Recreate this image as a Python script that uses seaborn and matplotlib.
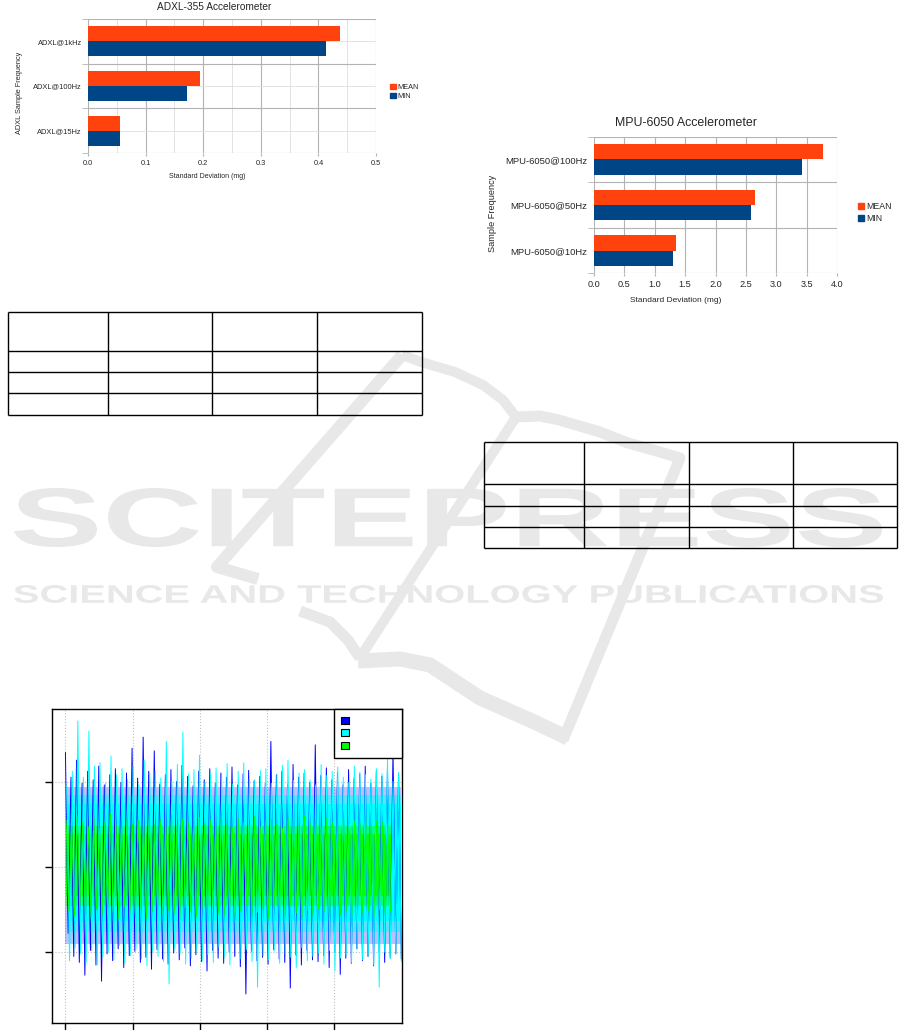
import numpy as np
import pandas as pd
import matplotlib
matplotlib.use("Agg")
import matplotlib.pyplot as plt
import seaborn as sns
from matplotlib.textpath import TextPath
from matplotlib.font_manager import FontProperties, findfont
from matplotlib.patches import PathPatch, Patch
from matplotlib.transforms import Affine2D
from matplotlib.ticker import MultipleLocator, FormatStrFormatter

sns.set_style("white")
plt.rcParams["font.family"] = ["Liberation Sans", "DejaVu Sans"]

# ---------------- data ----------------
STATS = ["MEAN", "MIN"]
STAT_COLORS = {"MEAN": "#ff420e", "MIN": "#004586"}

ADXL_FREQ = ["ADXL@1kHz", "ADXL@100Hz", "ADXL@15Hz"]
ADXL_MEAN = [0.438, 0.194, 0.055]
ADXL_MIN = [0.413, 0.172, 0.055]

MPU_FREQ = ["MPU-6050@100Hz", "MPU-6050@50Hz", "MPU-6050@10Hz"]
MPU_MEAN = [3.76, 2.65, 1.35]
MPU_MIN = [3.42, 2.58, 1.31]

# noise traces: local peak / trough of each short stretch
BLUE_UP = [1.34, 1.05, 1.25, 0.98, 1.12, 1.02, 1.18, 0.96, 1.08, 1.15,
           0.99, 1.10, 1.39, 1.04, 1.52, 1.12, 1.36, 0.97, 1.08, 1.14,
           1.00, 1.19, 1.06, 0.95, 1.12, 1.02, 1.15, 0.98, 1.10, 1.05,
           1.17, 0.96, 1.09, 1.13, 1.01, 1.06, 0.98, 1.47, 1.08, 1.12,
           0.97, 1.20, 1.05, 1.10, 0.99, 1.43, 1.07, 1.16, 1.02, 1.11,
           0.96, 1.14, 1.04, 1.09, 1.18, 0.98, 1.12, 1.06, 1.15, 1.36,
           1.10]
BLUE_DN = [-0.78, -1.05, -1.12, -1.27, -0.98, -1.15, -1.34, -1.02, -1.10, -0.96,
           -1.18, -1.04, -0.99, -1.12, -1.06, -1.20, -0.97, -1.08, -1.14, -1.01,
           -1.09, -0.95, -1.16, -1.03, -1.11, -1.22, -0.98, -1.07, -1.13, -1.00,
           -1.05, -1.17, -1.49, -0.99, -1.10, -1.06, -1.14, -0.97, -1.08, -1.12,
           -1.42, -1.03, -1.15, -0.98, -1.09, -1.11, -1.04, -1.18, -1.00, -1.26,
           -1.07, -1.13, -0.96, -1.10, -1.05, -1.16, -0.99, -1.12, -1.06, -1.02,
           -1.08]
CYAN_UP = [0.95, 1.12, 1.71, 1.05, 1.59, 1.18, 1.22, 0.98, 1.30, 1.08,
           1.15, 1.02, 1.18, 0.96, 1.25, 1.10, 1.12, 1.04, 1.47, 1.00,
           1.20, 1.58, 1.09, 1.14, 1.31, 0.99, 1.10, 1.16, 1.05, 1.21,
           0.97, 1.12, 1.22, 1.03, 1.02, 1.13, 1.15, 0.98, 1.08, 1.19,
           1.25, 1.01, 1.10, 1.14, 1.02, 0.96, 1.20, 1.07, 1.12, 1.17,
           1.05, 0.99, 1.18, 1.11, 1.08, 1.03, 1.15, 1.09, 1.27, 1.00,
           1.10]
CYAN_DN = [-1.10, -0.95, -1.02, -1.12, -0.98, -1.15, -1.06, -1.00, -1.09, -0.92,
           -1.13, -1.04, -0.97, -1.08, -1.16, -0.99, -1.05, -1.11, -1.37, -0.96,
           -1.02, -1.14, -1.07, -0.98, -1.10, -1.03, -1.12, -0.94, -1.06, -1.15,
           -1.00, -1.08, -0.97, -1.11, -1.41, -1.04, -1.09, -0.99, -1.13, -1.02,
           -1.06, -1.18, -0.95, -1.10, -1.05, -1.01, -1.14, -0.98, -1.22, -1.07,
           -1.03, -1.12, -0.96, -1.09, -1.04, -1.15, -1.41, -1.00, -1.08, -1.02,
           -1.11]
GREEN_UP = [0.55, 0.48, 0.60, 0.52, 0.47, 0.58, 0.45, 0.53, 0.62, 0.50,
            0.46, 0.57, 0.51, 0.55, 0.48, 0.59, 0.50, 0.54, 0.47, 0.60,
            0.49, 0.56, 0.53, 0.45, 0.58, 0.51, 0.55, 0.48, 0.61, 0.50,
            0.46, 0.57, 0.52, 0.49, 0.59, 0.47, 0.54, 0.56, 0.50, 0.45,
            0.58, 0.53, 0.48, 0.60, 0.51, 0.55, 0.47, 0.57, 0.52, 0.49,
            0.58, 0.46, 0.54, 0.50, 0.59, 0.48, 0.55, 0.52, 0.50]
GREEN_DN = [-0.52, -0.58, -0.45, -0.55, -0.60, -0.50, -0.56, -0.48, -0.53, -0.61,
            -0.47, -0.54, -0.58, -0.49, -0.60, -0.52, -0.46, -0.57, -0.51, -0.55,
            -0.62, -0.48, -0.53, -0.59, -0.50, -0.56, -0.47, -0.54, -0.58, -0.49,
            -0.61, -0.52, -0.45, -0.57, -0.53, -0.50, -0.60, -0.48, -0.55, -0.58,
            -0.46, -0.54, -0.62, -0.51, -0.57, -0.49, -0.53, -0.59, -0.47, -0.56,
            -0.52, -0.60, -0.48, -0.55, -0.51, -0.58, -0.50, -0.54, -0.53]
BLUE_BAND = [-0.90, 0.94]
CYAN_BAND = [-0.76, 0.84]
CYAN_CORE = [-0.64, 0.74]
GREEN_BAND = [-0.46, 0.48]
GREEN_CORE = [-0.34, 0.39]
TRACE_SPAN = {"blue": (0.0, 5.0), "cyan": (0.02, 5.0), "green": (0.01, 4.84)}
NOISE_XTICKS = [0, 1, 2, 3, 4]
NOISE_YTICKS = [-1, 0, 1]

W, H = 901, 1030
WM = "#e8e8e8"
GRID = "#b3b3b3"

fig = plt.figure(figsize=(W / 100, H / 100), dpi=100)


def px_axes(l, t, r, b):
    return fig.add_axes([l / W, 1 - b / H, (r - l) / W, (b - t) / H])


# ---------------- page background: watermark + empty tables ----------------
bg = fig.add_axes([0, 0, 1, 1])
bg.set_xlim(0, W)
bg.set_ylim(H, 0)
bg.axis("off")

WM_FONT = FontProperties(fname=findfont(FontProperties(family="Liberation Sans",
                                                       weight="bold")))


def stamp(text, x0, x1, y0, y1):
    tp = TextPath((0, 0), text, size=100, prop=WM_FONT)
    bb = tp.get_extents()
    tr = (Affine2D().translate(-bb.x0, -bb.y0)
          .scale((x1 - x0) / bb.width, -(y1 - y0) / bb.height)
          .translate(x0, y1))
    bg.add_patch(PathPatch(tr.transform_path(tp), fc=WM, ec="none", zorder=1))


stamp("SCITEPRESS", 14, 882, 488, 547)
stamp("SCIENCE AND TECHNOLOGY PUBLICATIONS", 14, 883, 585, 603)

logo = [
    ([402, 217, 258], [355, 567, 579], 12),
    ([402, 421, 455, 483, 503, 516], [355, 362, 372, 385, 400, 417], 10),
    ([516, 540, 559, 600, 628, 660, 680, 563], [417, 416, 420, 432, 443, 452, 458, 740], 11),
    ([516, 363], [417, 653], 10),
    ([300, 330, 348, 360], [611, 622, 640, 658], 11),
    ([358, 400, 430, 480, 530, 568], [661, 659, 665, 698, 720, 738], 15),
]
for xs, ys, w in logo:
    bg.plot(xs, ys, color=WM, lw=w * 0.72, solid_capstyle="butt",
            solid_joinstyle="round", zorder=0.5)

tables = [
    ([8.3, 108.3, 212.3, 317.3, 421.7], [312.3, 350.7, 371.7, 393.3, 415.0]),
    ([484.3, 584.3, 688.7, 793.3, 897.3], [441.7, 484.0, 505.7, 527.3, 547.7]),
]
for cols, rows in tables:
    bg.hlines(rows, cols[0], cols[-1], color="k", lw=1.0, zorder=3)
    bg.vlines(cols, rows[0], rows[-1], color="k", lw=1.0, zorder=3)


# ---------------- bar charts ----------------
def bar_chart(ax, freqs, mean, minv, xmax, step, minor, fs):
    df = pd.DataFrame({
        "freq": freqs * 2,
        "stat": ["MEAN"] * len(freqs) + ["MIN"] * len(freqs),
        "value": mean + minv,
    })
    sns.barplot(data=df, x="value", y="freq", hue="stat", hue_order=STATS,
                palette=STAT_COLORS, orient="h", width=0.67, saturation=1,
                errorbar=None, linewidth=0, legend=False, ax=ax, zorder=3)
    ax.set_xlim(0, xmax)
    ax.set_ylim(len(freqs) - 0.5, -0.5)
    ax.xaxis.set_major_locator(MultipleLocator(step))
    ax.xaxis.set_major_formatter(FormatStrFormatter("%.1f"))
    ax.set_yticks(np.arange(len(freqs) + 1) - 0.5, minor=True)
    ax.set_axisbelow(True)
    ax.grid(axis="x", which="major", color=GRID, lw=0.8)
    ax.grid(axis="y", which="minor", color=GRID, lw=0.8)
    if minor:
        ax.xaxis.set_minor_locator(MultipleLocator(step / 2))
        ax.grid(axis="x", which="minor", color="#dedede", lw=0.6)
        ax.grid(axis="y", which="major", color="#dedede", lw=0.6)
    for s in ax.spines.values():
        s.set_visible(False)
    ax.tick_params(axis="x", which="major", bottom=True, length=2.5, color=GRID,
                   pad=2.5, labelsize=fs["xtick"])
    ax.tick_params(axis="x", which="minor", length=0)
    ax.tick_params(axis="y", which="major", left=True, length=0, pad=4.5,
                   labelsize=fs["ytick"])
    ax.tick_params(axis="y", which="minor", left=True, length=4, color=GRID)
    handles = [Patch(color=STAT_COLORS[s], label=s) for s in STATS]
    return handles


ax1 = px_axes(88, 19, 376, 153)
h1 = bar_chart(ax1, ADXL_FREQ, ADXL_MEAN, ADXL_MIN, 0.5, 0.1, True,
               {"xtick": 5.3, "ytick": 5.4})
ax1.set_xlabel("Standard Deviation (mg)", fontsize=5.0)
ax1.xaxis.set_label_coords(0.413, -0.15)
ax1.set_ylabel("ADXL Sample Frequency", fontsize=5.3)
ax1.yaxis.set_label_coords(-0.226, 0.45)
ax1.legend(h1, STATS, loc="center left", bbox_to_anchor=(1.04, 0.455),
           frameon=False, fontsize=5.3, handlelength=0.7, handleheight=0.7,
           handletextpad=0.3, labelspacing=0.35, borderaxespad=0)
fig.text(214 / W, 1 - 7.5 / H, "ADXL-355 Accelerometer", fontsize=7.3,
         ha="center", va="center")

ax2 = px_axes(593.7, 136.7, 837.3, 273.3)
h2 = bar_chart(ax2, MPU_FREQ, MPU_MEAN, MPU_MIN, 4.0, 0.5, False,
               {"xtick": 6.6, "ytick": 6.8})
ax2.set_xlabel("Standard Deviation (mg)", fontsize=6.0)
ax2.xaxis.set_label_coords(0.337, -0.17)
ax2.set_ylabel("Sample Frequency", fontsize=6.6)
ax2.yaxis.set_label_coords(-0.395, 0.44)
ax2.legend(h2, STATS, loc="center left", bbox_to_anchor=(1.07, 0.445),
           frameon=False, fontsize=6.3, handlelength=0.7, handleheight=0.7,
           handletextpad=0.3, labelspacing=0.3, borderaxespad=0)
fig.text(685.7 / W, 1 - 122.7 / H, "MPU-6050 Accelerometer", fontsize=8.9,
         ha="center", va="center")

# ---------------- noise traces ----------------
nax = px_axes(52, 709, 402, 1023)
nax.set_facecolor("white")
nax.set_zorder(2)


def trace(up, dn, span, band, color, band_alpha, core=None):
    # a line trace that swings peak -> trough -> peak ...
    y = np.column_stack([up, dn]).ravel()
    x = np.linspace(span[0], span[1], len(y))
    nax.fill_between(list(span), *band, color=color, alpha=band_alpha, lw=0)
    sns.lineplot(x=x, y=y, color=color, lw=0.7, ax=nax)
    if core is not None:
        nax.fill_between(list(span), *core, color=color, lw=0)


trace(BLUE_UP, BLUE_DN, TRACE_SPAN["blue"], BLUE_BAND, "#0000ff", 0.25)
trace(CYAN_UP, CYAN_DN, TRACE_SPAN["cyan"], CYAN_BAND, "#00ffff", 0.5, CYAN_CORE)
trace(GREEN_UP, GREEN_DN, TRACE_SPAN["green"], GREEN_BAND, "#00ff00", 0.5, GREEN_CORE)

nax.set_xlim(-0.2, 5.01)
nax.set_ylim(-1.83, 1.85)
nax.set_xticks(NOISE_XTICKS)
nax.set_yticks(NOISE_YTICKS)
nax.set_xticklabels([])
nax.set_yticklabels([])
nax.tick_params(bottom=True, left=True, length=5, width=1, color="k")
nax.grid(True, ls=":", color="#c0c0c0", lw=0.8)
for s in nax.spines.values():
    s.set_visible(True)
    s.set_color("k")
    s.set_linewidth(1.0)

trace_handles = [Patch(fc=c, ec="k", lw=0.8) for c in ["#0000ff", "#00ffff", "#00ff00"]]
leg = nax.legend(trace_handles, [" "] * 3, loc="upper left",
                 bbox_to_anchor=(0.806, 1.0, 0.194, 0), mode="expand",
                 borderaxespad=0, frameon=True, fancybox=False, edgecolor="k",
                 framealpha=1, fontsize=6.5, handlelength=0.8, handleheight=0.8,
                 labelspacing=0.4, borderpad=0.8, handletextpad=0.5)
leg.get_frame().set_linewidth(1.0)

fig.savefig("out.png", dpi=100)
